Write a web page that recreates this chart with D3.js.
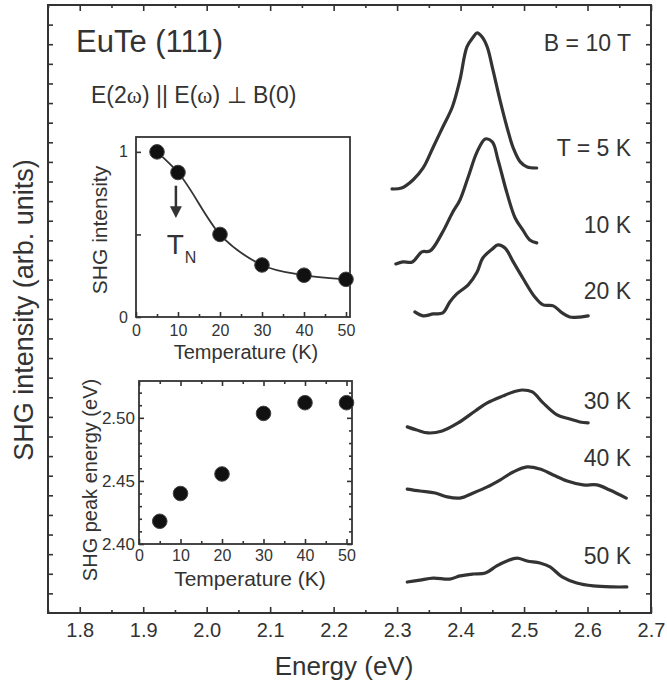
<!DOCTYPE html>
<html lang="en">
<head>
<meta charset="UTF-8">
<title>EuTe SHG spectra</title>
<style>
  body { margin: 0; background: #fff; }
  svg text { font-family: "Liberation Sans", Arial, Helvetica, sans-serif; fill: #333; }
  .frame { fill: #fff; stroke: #333; }
  .axis path { display: none; }
  .axis line { stroke: #333; stroke-width: 1.6; }
  .spectrum { fill: none; stroke: #333; stroke-width: 3.2; stroke-linejoin: round; stroke-linecap: round; }
</style>
</head>
<body>
<svg id="chart" width="667" height="686"></svg>
<script src="https://d3js.org/d3.v7.min.js"></script>
<script>
// spectra, energy in eV, intensity in arb. units (already vertically offset)
const temps = [5, 10, 20, 30, 40, 50];
const tempLabels = ["T = 5 K", "10 K", "20 K", "30 K", "40 K", "50 K"];

const energy5K = [2.292, 2.307, 2.325, 2.341, 2.357, 2.372, 2.387, 2.399, 2.410, 2.420, 2.426, 2.434, 2.442, 2.451, 2.462, 2.473, 2.483, 2.494, 2.505, 2.520];
const shg5K    = [21.62, 21.67, 22.08, 22.69, 23.76, 24.78, 25.80, 27.18, 28.86, 29.37, 29.58, 29.37, 28.86, 27.69, 26.16, 24.78, 23.71, 23.00, 22.74, 22.69];

const energy10K = [2.298, 2.309, 2.324, 2.339, 2.352, 2.371, 2.387, 2.399, 2.412, 2.426, 2.439, 2.450, 2.459, 2.473, 2.486, 2.498, 2.509, 2.520];
const shg10K    = [17.80, 17.90, 17.90, 18.41, 18.46, 19.38, 20.40, 21.06, 22.23, 23.51, 24.17, 24.02, 23.10, 21.42, 20.14, 19.53, 19.02, 18.87];

const energy20K = [2.328, 2.341, 2.357, 2.372, 2.383, 2.394, 2.412, 2.426, 2.435, 2.450, 2.459, 2.470, 2.483, 2.498, 2.517, 2.530, 2.546, 2.560, 2.572, 2.588, 2.601];
const shg20K    = [15.35, 15.15, 15.25, 15.30, 15.86, 16.27, 16.73, 17.39, 18.10, 18.56, 18.77, 18.61, 17.90, 17.08, 16.11, 15.71, 15.66, 15.30, 15.09, 15.09, 15.15];

const energy30K = [2.316, 2.331, 2.349, 2.371, 2.396, 2.423, 2.442, 2.467, 2.483, 2.497, 2.513, 2.530, 2.552, 2.572, 2.588, 2.601];
const shg30K    = [9.49, 9.33, 9.18, 9.28, 9.69, 10.30, 10.71, 11.07, 11.27, 11.37, 11.27, 10.71, 10.10, 9.89, 9.74, 9.69];

const energy40K = [2.316, 2.336, 2.360, 2.379, 2.399, 2.420, 2.442, 2.462, 2.483, 2.505, 2.525, 2.546, 2.568, 2.593, 2.615, 2.635, 2.661];
const shg40K    = [6.32, 6.22, 6.12, 5.92, 5.86, 6.12, 6.43, 6.78, 7.19, 7.45, 7.34, 7.04, 6.73, 6.53, 6.53, 6.27, 5.86];

const energy50K = [2.316, 2.336, 2.357, 2.383, 2.399, 2.420, 2.439, 2.457, 2.473, 2.489, 2.505, 2.525, 2.541, 2.560, 2.583, 2.609, 2.640, 2.662];
const shg50K    = [1.58, 1.68, 1.78, 1.73, 1.89, 1.99, 2.04, 2.40, 2.65, 2.80, 2.65, 2.55, 2.35, 1.84, 1.53, 1.38, 1.33, 1.33];

const energyTicks = [1.8, 1.9, 2.0, 2.1, 2.2, 2.3, 2.4, 2.5, 2.6, 2.7];

// insets
const insetTemps = [5, 10, 20, 30, 40, 50];
const shgIntensity = [1.0, 0.875, 0.50, 0.315, 0.253, 0.228];
const peakEnergy = [2.418, 2.440, 2.4555, 2.5035, 2.512, 2.512];

const spectra = [
  { e: energy5K, v: shg5K },
  { e: energy10K, v: shg10K },
  { e: energy20K, v: shg20K },
  { e: energy30K, v: shg30K },
  { e: energy40K, v: shg40K },
  { e: energy50K, v: shg50K }
];

const svg = d3.select("#chart");

// main panel
const M = { left: 48, right: 651, top: 5, bottom: 613 };
const x = d3.scaleLinear().domain([1.75, 2.7]).range([M.left, M.right]);
const y = d3.scaleLinear().domain([0, 31]).range([M.bottom, M.top]);

svg.append("rect").attr("class", "frame")
  .attr("x", M.left).attr("y", M.top)
  .attr("width", M.right - M.left).attr("height", M.bottom - M.top)
  .attr("stroke-width", 2);

const minorE = d3.range(1.75, 2.7, 0.1).map(d => +d.toFixed(2));
const yTicks = d3.range(1, 31);

function addAxis(axisFn, scale, values, size, transform, labels, padding) {
  const a = axisFn(scale).tickValues(values).tickSizeInner(size).tickSizeOuter(0);
  if (labels) a.tickFormat(labels).tickPadding(padding);
  else a.tickFormat("");
  return svg.append("g").attr("class", "axis").attr("transform", transform).call(a);
}

const bx = addAxis(d3.axisBottom, x, energyTicks, -6, `translate(0,${M.bottom})`, d3.format(".1f"), 10);
bx.selectAll("text").style("font-size", "20px").attr("fill", "#333");
addAxis(d3.axisBottom, x, minorE, -3, `translate(0,${M.bottom})`);
addAxis(d3.axisTop, x, energyTicks, -6, `translate(0,${M.top})`);
addAxis(d3.axisTop, x, minorE, -3, `translate(0,${M.top})`);
addAxis(d3.axisLeft, y, yTicks, -5, `translate(${M.left},0)`);
addAxis(d3.axisRight, y, yTicks, -5, `translate(${M.right},0)`);

svg.append("text")
  .attr("transform", "translate(33,310) rotate(-90)")
  .attr("text-anchor", "middle")
  .style("font-size", "27px")
  .text("SHG intensity (arb. units)");

svg.append("text")
  .attr("x", 344).attr("y", 675)
  .attr("text-anchor", "middle")
  .style("font-size", "26px")
  .text("Energy (eV)");

// spectra
const line = d3.line()
  .x(d => x(d[0]))
  .y(d => y(d[1]))
  .curve(d3.curveCatmullRom);

svg.selectAll(".spectrum")
  .data(spectra)
  .enter().append("path")
  .attr("class", "spectrum")
  .attr("d", s => line(s.e.map((e, i) => [e, s.v[i]])));

// annotations
svg.append("text").attr("x", 76).attr("y", 52)
  .style("font-size", "31px").text("EuTe (111)");

const pol = svg.append("text").attr("x", 91).attr("y", 103).style("font-size", "23px");
pol.append("tspan").text("E(2");
pol.append("tspan").style("font-family", "'Liberation Serif', 'DejaVu Serif', serif").text("ω");
pol.append("tspan").text(") || E(");
pol.append("tspan").style("font-family", "'Liberation Serif', 'DejaVu Serif', serif").text("ω");
pol.append("tspan").text(") \u22A5 B(0)");

svg.append("text").attr("x", 631).attr("y", 51)
  .attr("text-anchor", "end").style("font-size", "23px").text("B = 10 T");

const labelLevels = [23.3, 19.4, 16.0, 10.4, 7.5, 2.5];
svg.selectAll(".tlabel")
  .data(tempLabels)
  .enter().append("text")
  .attr("class", "tlabel")
  .attr("x", 631)
  .attr("y", (d, i) => y(labelLevels[i]))
  .attr("text-anchor", "end")
  .style("font-size", "23px")
  .text(d => d);

// inset 1: SHG intensity vs temperature
const I1 = { left: 136, right: 350, top: 137, bottom: 317 };
const x1 = d3.scaleLinear().domain([0, (I1.right - I1.left) / 4.2]).range([I1.left, I1.right]);
const y1 = d3.scaleLinear().domain([0, 1.09]).range([I1.bottom, I1.top]);

svg.append("rect").attr("class", "frame")
  .attr("x", I1.left).attr("y", I1.top)
  .attr("width", I1.right - I1.left).attr("height", I1.bottom - I1.top)
  .attr("stroke-width", 1.8);

const tMajor = [0, 10, 20, 30, 40, 50];
const tMinor = [5, 15, 25, 35, 45];

const ix1 = addAxis(d3.axisBottom, x1, tMajor, -5, `translate(0,${I1.bottom})`, d3.format("d"), 8);
ix1.selectAll("text").style("font-size", "16px");
addAxis(d3.axisBottom, x1, tMinor, -3, `translate(0,${I1.bottom})`);
const iy1 = addAxis(d3.axisLeft, y1, [0, 0.5, 1], -5, `translate(${I1.left},0)`, d => d === 0.5 ? "" : d3.format("d")(d), 8);
iy1.selectAll("text").style("font-size", "16px");

svg.append("path")
  .attr("fill", "none").attr("stroke", "#333").attr("stroke-width", 1.8)
  .attr("d", d3.line().x(d => x1(d[0])).y(d => y1(d[1])).curve(d3.curveMonotoneX)(insetTemps.map((t, i) => [t, shgIntensity[i]])));

svg.selectAll(".dot1")
  .data(insetTemps)
  .enter().append("circle")
  .attr("class", "dot1")
  .attr("cx", d => x1(d))
  .attr("cy", (d, i) => y1(shgIntensity[i]))
  .attr("r", 7.3)
  .attr("fill", "#111").attr("stroke", "#444").attr("stroke-width", 1);

// T_N arrow
svg.append("line")
  .attr("x1", x1(9.5)).attr("x2", x1(9.5))
  .attr("y1", y1(0.795)).attr("y2", y1(0.66))
  .attr("stroke", "#333").attr("stroke-width", 2.5);
svg.append("path")
  .attr("fill", "#333")
  .attr("d", `M${x1(9.5) - 6},${y1(0.67)} L${x1(9.5) + 6},${y1(0.67)} L${x1(9.5)},${y1(0.6)} Z`);
const tn = svg.append("text").attr("x", x1(7.3)).attr("y", y1(0.38)).style("font-size", "28px");
tn.append("tspan").text("T");
tn.append("tspan").attr("dx", 1).attr("dy", 9).style("font-size", "16px").text("N");

svg.append("text")
  .attr("transform", `translate(107,${(I1.top + I1.bottom) / 2 + 3}) rotate(-90)`)
  .attr("text-anchor", "middle").style("font-size", "21px").text("SHG intensity");
svg.append("text")
  .attr("x", 246).attr("y", 359)
  .attr("text-anchor", "middle").style("font-size", "20px").text("Temperature (K)");

// inset 2: peak energy vs temperature
const I2 = { left: 139, right: 352, top: 381, bottom: 544 };
const x2 = d3.scaleLinear().domain([0, (I2.right - I2.left) / 4.15]).range([I2.left, I2.right]);
const y2 = d3.scaleLinear().domain([2.40, 2.5292]).range([I2.bottom, I2.top]);

svg.append("rect").attr("class", "frame")
  .attr("x", I2.left).attr("y", I2.top)
  .attr("width", I2.right - I2.left).attr("height", I2.bottom - I2.top)
  .attr("stroke-width", 1.8);

const eMajor = [2.40, 2.45, 2.50];
const eMinor = d3.range(2.41, 2.53, 0.01).map(d => +d.toFixed(2)).filter(d => !eMajor.includes(d));

const ix2 = addAxis(d3.axisBottom, x2, tMajor, -5, `translate(0,${I2.bottom})`, d3.format("d"), 6);
ix2.selectAll("text").style("font-size", "16px");
addAxis(d3.axisBottom, x2, tMinor, -3, `translate(0,${I2.bottom})`);
addAxis(d3.axisTop, x2, tMajor, -5, `translate(0,${I2.top})`);
addAxis(d3.axisTop, x2, tMinor, -3, `translate(0,${I2.top})`);
const iy2 = addAxis(d3.axisLeft, y2, eMajor, -5, `translate(${I2.left},0)`, d3.format(".2f"), 4);
iy2.selectAll("text").style("font-size", "17px");
addAxis(d3.axisLeft, y2, eMinor, -3, `translate(${I2.left},0)`);
addAxis(d3.axisRight, y2, eMajor, -5, `translate(${I2.right},0)`);
addAxis(d3.axisRight, y2, eMinor, -3, `translate(${I2.right},0)`);

svg.selectAll(".dot2")
  .data(insetTemps)
  .enter().append("circle")
  .attr("class", "dot2")
  .attr("cx", d => x2(d))
  .attr("cy", (d, i) => y2(peakEnergy[i]))
  .attr("r", 7.3)
  .attr("fill", "#111").attr("stroke", "#444").attr("stroke-width", 1);

svg.append("text")
  .attr("transform", "translate(97,480) rotate(-90)")
  .attr("text-anchor", "middle").style("font-size", "20px").text("SHG peak energy (eV)");
svg.append("text")
  .attr("x", 250).attr("y", 586)
  .attr("text-anchor", "middle").style("font-size", "21px").text("Temperature (K)");
</script>
</body>
</html>
